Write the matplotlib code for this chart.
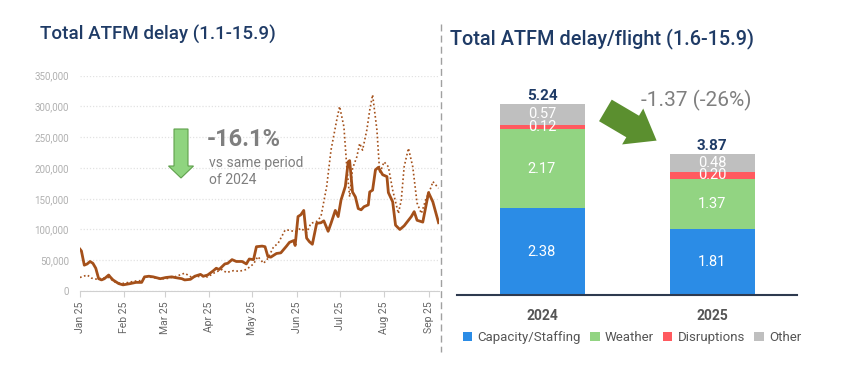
import matplotlib
matplotlib.use("Agg")
import matplotlib.dates as mdates
import matplotlib.pyplot as plt
import numpy as np
import pandas as pd
from matplotlib.lines import Line2D
from matplotlib.patches import FancyArrow

plt.rcParams['font.family'] = ['Roboto', 'DejaVu Sans']

# left panel: daily ATFM delay (thousand minutes), day offsets from 1 Jan
days_2025 = [0, 1, 3, 5, 7, 9, 11, 13, 15, 17, 20, 21, 23, 27, 30, 35, 39, 43,
             45, 48, 51, 56, 60, 64, 66, 71, 73, 77, 80, 84, 86, 89, 93, 95,
             97, 101, 103, 106, 109, 113, 116, 118, 121, 123, 127, 129, 131,
             133, 137, 140, 144, 146, 149, 150, 152, 154, 156, 158, 160, 162,
             165, 168, 170, 173, 175, 178, 180, 182, 185, 187, 188, 190, 192,
             194, 196, 198, 201, 202, 204, 206, 208, 211, 214, 215, 218, 220,
             223, 226, 231, 233, 235, 239, 243, 246, 250]
delay_2025 = [68, 65, 42, 44, 48, 45, 37, 20, 18, 20, 26, 23, 18, 12, 10, 12,
              14, 14, 23, 24, 23, 20, 22, 23, 22, 20, 18, 19, 24, 27, 24, 26,
              33, 37, 35, 44, 45, 51, 48, 48, 44, 52, 51, 72, 73, 72, 56, 55,
              61, 62, 73, 79, 82, 74, 121, 124, 131, 86, 80, 76, 110, 111,
              114, 97, 110, 131, 121, 148, 170, 210, 212, 161, 153, 134, 132,
              137, 140, 161, 164, 197, 201, 189, 186, 160, 145, 107, 100, 106,
              121, 129, 115, 112, 160, 145, 111]

days_2024 = [0, 5, 8, 12, 15, 20, 24, 29, 34, 38, 43, 46, 51, 56, 60, 66, 73,
             78, 84, 89, 94, 99, 102, 107, 111, 116, 121, 124, 128, 131, 135,
             138, 143, 146, 150, 154, 158, 161, 165, 168, 172, 175, 179, 181,
             184, 186, 188, 190, 193, 195, 197, 200, 202, 204, 207, 209, 212,
             215, 218, 222, 224, 226, 229, 232, 235, 238, 241, 245, 246, 250]
delay_2024 = [22, 26, 21, 19, 21, 22, 15, 12, 14, 16, 17, 23, 22, 20, 20, 23,
              29, 22, 24, 23, 30, 35, 30, 33, 32, 35, 44, 56, 45, 53, 72, 77,
              99, 99, 96, 102, 95, 110, 113, 121, 170, 229, 278, 300, 267,
              202, 153, 199, 218, 240, 229, 262, 294, 319, 262, 191, 210, 202,
              164, 126, 148, 202, 232, 202, 143, 126, 148, 170, 178, 167]

yoy_change = "-16.1%"

# right panel: delay per flight by cause
years = ["2024", "2025"]
causes = ["Capacity/Staffing", "Weather", "Disruptions", "Other"]
capacity = [2.38, 1.81]
weather = [2.17, 1.37]
disruptions = [0.12, 0.20]
other = [0.57, 0.48]
totals = [5.24, 3.87]
per_flight_change = "-1.37 (-26%)"

cause_colors = ["#2B8CE6", "#92D482", "#FF5A5F", "#BFBFBF"]
navy = "#1F3B66"
brown = "#A4501A"

fig = plt.figure(figsize=(8.42, 3.73), dpi=100)

# ---- left: daily delay line chart
start = pd.Timestamp("2025-01-01")
d25 = start + pd.to_timedelta(days_2025, unit="D")
d24 = start + pd.to_timedelta(days_2024, unit="D")

ax = fig.add_axes([80 / 842, 82 / 373, 359 / 842, 215.3 / 373])
ax.plot(d24, np.array(delay_2024) * 1000, color=brown, lw=1.2,
        ls=(0, (1, 1.5)))
ax.plot(d25, np.array(delay_2025) * 1000, color=brown, lw=2.0)
ax.set_ylim(0, 350000)
ax.set_xlim(start, start + pd.Timedelta(days=250.3))
ax.set_yticks(np.arange(0, 350001, 50000))
ax.yaxis.set_major_formatter(plt.FuncFormatter(lambda v, p: f"{v:,.0f}"))
ax.xaxis.set_major_locator(mdates.MonthLocator())
ax.xaxis.set_major_formatter(mdates.DateFormatter("%b %y"))
ax.tick_params(axis="x", rotation=90, labelsize=7.5, colors="#666666",
               length=4, width=0.8)
ax.tick_params(axis="x", color="#D0D0D0")
ax.tick_params(axis="y", labelsize=7, colors="#B0B0B0", length=0, pad=8)
ax.grid(axis="y", color="#E2E2E2", ls=(0, (1, 1.5)), lw=0.9)
for side in ["top", "right", "left"]:
    ax.spines[side].set_visible(False)
ax.spines["bottom"].set_color("#D0D0D0")
ax.set_axisbelow(True)

# green down arrow and the YoY text
fig.add_artist(FancyArrow(181 / 842, (373 - 129) / 373, 0, -49 / 373,
                          width=14 / 842, head_width=25 / 842,
                          head_length=12 / 373, length_includes_head=True,
                          transform=fig.transFigure, facecolor="#8FD47F",
                          edgecolor="#5FA04C", lw=0.8))
fig.text(207 / 842, (373 - 139) / 373, yoy_change, fontsize=17,
         fontweight="bold", color="#7F7F7F", va="center")
fig.text(209 / 842, (373 - 163) / 373, "vs same period", fontsize=10,
         color="#7F7F7F", va="center")
fig.text(209 / 842, (373 - 180) / 373, "of 2024", fontsize=10,
         color="#7F7F7F", va="center")

# ---- divider and titles
fig.add_artist(Line2D([441 / 842, 441 / 842], [(373 - 24) / 373,
                                               (373 - 352) / 373],
                      transform=fig.transFigure, color="#A0A0A0", lw=1,
                      ls=(0, (5, 3))))
fig.text(40 / 842, (373 - 34) / 373, "Total ATFM delay (1.1-15.9)",
         fontsize=13.5, fontweight="medium", color=navy, va="center")
fig.text(450 / 842, (373 - 39) / 373, "Total ATFM delay/flight (1.6-15.9)",
         fontsize=14.3, fontweight="medium", color=navy, va="center")

# ---- right: stacked bars
bx = fig.add_axes([457 / 842, 78 / 373, 340 / 842, 219 / 373])
x = np.arange(len(years))
bottom = np.zeros(len(years))
for vals, name, col in zip([capacity, weather, disruptions, other], causes,
                           cause_colors):
    bx.bar(x, vals, bottom=bottom, width=0.5, color=col, label=name)
    for xi, b, v in zip(x, bottom, vals):
        bx.text(xi, b + v / 2, f"{v:.2f}", ha="center", va="center",
                color="white", fontsize=10.5)
    bottom += np.array(vals)
for xi, t in zip(x, totals):
    bx.text(xi, t + 0.02, f"{t:.2f}", ha="center", va="bottom", color=navy,
            fontsize=11, fontweight="bold")
bx.set_xlim(-0.5, 1.5)
bx.set_ylim(0, 6)
bx.set_yticks([])
bx.set_xticks(x, years)
bx.tick_params(axis="x", length=0, labelsize=10, labelcolor="#555555", pad=10)
for lab in bx.get_xticklabels():
    lab.set_fontweight("bold")
for side in ["top", "right", "left"]:
    bx.spines[side].set_visible(False)
bx.spines["bottom"].set_color("#2E3A4F")
bx.spines["bottom"].set_linewidth(1.5)

bx.legend(loc="upper center", bbox_to_anchor=(0.515, -0.11), ncol=4,
          frameon=False, fontsize=9.5, labelcolor="#555555", handlelength=0.7,
          handleheight=0.7, handletextpad=0.4, columnspacing=0.7)

bx.text(0.906, 5.32, per_flight_change, ha="center", va="center",
        fontsize=15, color="#7F7F7F")
bx.annotate("", xy=(659, 373 - 142), xytext=(603, 373 - 109),
            xycoords="figure pixels", textcoords="figure pixels",
            arrowprops=dict(arrowstyle="simple,head_width=3.0,head_length=2.0,"
                            "tail_width=1.8", color="#5B8F2F", lw=0))

fig.savefig("out.png", dpi=100)
